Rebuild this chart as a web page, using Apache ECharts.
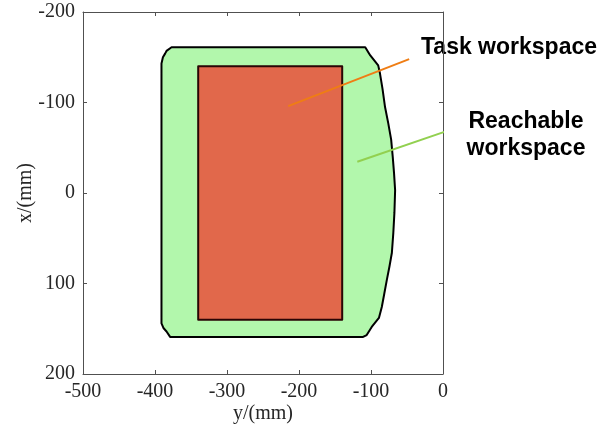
<!DOCTYPE html>
<html>
<head>
<meta charset="utf-8">
<script src="https://cdn.jsdelivr.net/npm/echarts@6/dist/echarts.min.js"></script>
<style>html,body{margin:0;padding:0;background:#fff}#c{width:611px;height:432px}</style>
</head>
<body>
<div id="c"></div>
<script>
// Horizontal axis: y (mm); vertical axis: x (mm), inverted
const xTicks = [-500, -400, -300, -200, -100, 0];
const yTicks = [-200, -100, 0, 100, 200];

// Reachable workspace boundary (y mm, x mm)
const reachY = [-377, -384, -386, -389, -391, -391, -388, -384, -379, -111, -106, -99, -89, -85, -81.5, -78, -74.3, -71, -69, -67.5, -66.5, -68, -69.8, -72, -76, -80.5, -84, -87.5, -90, -101, -108];
const reachX = [-161, -157, -154, -150, -143, 144, 149.5, 153, 159, 159, 157, 148, 138, 126, 111, 96, 81, 66, 44, 22, -3, -22, -40, -59, -77, -95, -115, -132, -141, -152, -161];

// Task workspace rectangle
const taskY = [-340, -140, -140, -340];
const taskX = [-140, -140, 140, 140];

// Annotation leader lines
const taskLeaderY = [-215, -47];
const taskLeaderX = [-96, -148];
const reachLeaderY = [-119, 13.5];
const reachLeaderX = [-34.6, -70.7];

const labels = ['Task workspace', 'Reachable\nworkspace'];

function zip(a, b) { return a.map((v, i) => [v, b[i]]); }

function polySeries(ys, xs, fill, stroke) {
  const pts = zip(ys, xs);
  return {
    type: 'custom',
    xAxisIndex: 0, yAxisIndex: 0,
    data: [0],
    silent: true,
    renderItem: function (params, api) {
      return {
        type: 'polygon',
        shape: { points: pts.map(p => api.coord(p)) },
        style: { fill: fill, stroke: stroke, lineWidth: 2, lineJoin: 'round' }
      };
    }
  };
}

const chart = echarts.init(document.getElementById('c'), null, { renderer: 'canvas' });
const axisCommon = {
  axisLine: { show: true, onZero: false, lineStyle: { color: '#505050', width: 1 } },
  axisTick: { show: true, inside: true, length: 4, lineStyle: { color: '#505050' } },
  splitLine: { show: false }
};
const tickFont = { fontFamily: 'Liberation Serif', fontSize: 20, color: '#262626' };
chart.setOption({
  animation: false,
  grid: { left: 83, right: 168, top: 12, bottom: 58 },
  xAxis: [
    Object.assign({ type: 'value', min: xTicks[0], max: xTicks[xTicks.length - 1], interval: 100, position: 'bottom',
      name: 'y/(mm)', nameLocation: 'middle', nameGap: 30, nameMoveOverlap: false,
      nameTextStyle: { fontFamily: 'Liberation Serif', fontSize: 20, color: '#262626' },
      axisLabel: Object.assign({ margin: 8 }, tickFont) }, axisCommon),
    Object.assign({ type: 'value', min: xTicks[0], max: xTicks[xTicks.length - 1], interval: 100, position: 'top',
      axisLabel: { show: false } }, axisCommon)
  ],
  yAxis: [
    Object.assign({ type: 'value', min: yTicks[0], max: yTicks[yTicks.length - 1], interval: 100, inverse: true, position: 'left',
      name: 'x/(mm)', nameLocation: 'middle', nameGap: 47, nameRotate: 90, nameMoveOverlap: false,
      nameTextStyle: { fontFamily: 'Liberation Serif', fontSize: 20, color: '#262626' },
      axisLabel: Object.assign({ margin: 8 }, tickFont) }, axisCommon),
    Object.assign({ type: 'value', min: yTicks[0], max: yTicks[yTicks.length - 1], interval: 100, inverse: true, position: 'right',
      axisLabel: { show: false } }, axisCommon)
  ],
  series: [
    polySeries(reachY, reachX, '#b2f7ac', '#000000'),
    polySeries(taskY, taskX, '#e1684b', '#2a0505'),
    { type: 'line', data: zip(taskLeaderY, taskLeaderX), clip: false, symbol: 'none', silent: true,
      lineStyle: { color: '#ef7d14', width: 2 } },
    { type: 'line', data: zip(reachLeaderY, reachLeaderX), clip: false, symbol: 'none', silent: true,
      lineStyle: { color: '#92d050', width: 2 } }
  ],
  graphic: [
    { type: 'text', x: 421, y: 48, style: { text: labels[0], font: 'bold 23px "Liberation Sans"', fill: '#000', align: 'left', verticalAlign: 'middle' } },
    { type: 'text', x: 526, y: 135, style: { text: labels[1], font: 'bold 23px "Liberation Sans"', fill: '#000', align: 'center', verticalAlign: 'middle', lineHeight: 27 } }
  ]
});
</script>
</body>
</html>
